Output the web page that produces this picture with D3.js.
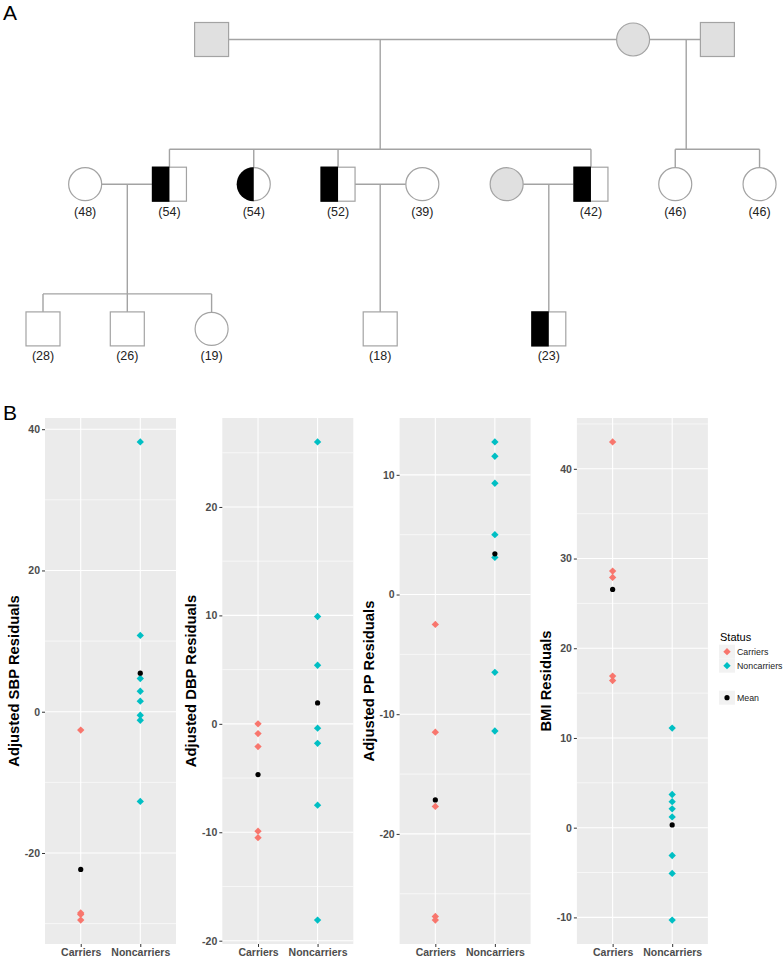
<!DOCTYPE html>
<html lang="en">
<head>
<meta charset="utf-8">
<script src="https://cdn.jsdelivr.net/npm/d3@7"></script>
<style>
  body { margin: 0; background: #fff; }
  text { font-family: Arial, "Liberation Sans", sans-serif; }
</style>
</head>
<body>
<script>
// ---- pedigree (panel A) ----
// slot = column in the pedigree grid, gen = generation row
var people = [
  { id: "gf1", gen: 0, slot: 2, sex: "m", status: "unknown", age: "" },
  { id: "gm", gen: 0, slot: 7, sex: "f", status: "unknown", age: "" },
  { id: "gf2", gen: 0, slot: 8, sex: "m", status: "unknown", age: "" },
  { id: "sp48", gen: 1, slot: 0.5, sex: "f", status: "none", age: "(48)" },
  { id: "m54", gen: 1, slot: 1.5, sex: "m", status: "carrier", age: "(54)" },
  { id: "f54", gen: 1, slot: 2.5, sex: "f", status: "carrier", age: "(54)" },
  { id: "m52", gen: 1, slot: 3.5, sex: "m", status: "carrier", age: "(52)" },
  { id: "sp39", gen: 1, slot: 4.5, sex: "f", status: "none", age: "(39)" },
  { id: "spx", gen: 1, slot: 5.5, sex: "f", status: "unknown", age: "" },
  { id: "m42", gen: 1, slot: 6.5, sex: "m", status: "carrier", age: "(42)" },
  { id: "f46a", gen: 1, slot: 7.5, sex: "f", status: "none", age: "(46)" },
  { id: "f46b", gen: 1, slot: 8.5, sex: "f", status: "none", age: "(46)" },
  { id: "c28", gen: 2, slot: 0, sex: "m", status: "none", age: "(28)" },
  { id: "c26", gen: 2, slot: 1, sex: "m", status: "none", age: "(26)" },
  { id: "c19", gen: 2, slot: 2, sex: "f", status: "none", age: "(19)" },
  { id: "c18", gen: 2, slot: 4, sex: "m", status: "none", age: "(18)" },
  { id: "c23", gen: 2, slot: 6, sex: "m", status: "carrier", age: "(23)" }
];
var families = [
  { parents: ["gf1", "gm"], kids: ["m54", "f54", "m52", "m42"], drop: 4 },
  { parents: ["gm", "gf2"], kids: ["f46a", "f46b"], drop: 7.63 },
  { parents: ["sp48", "m54"], kids: ["c28", "c26", "c19"] },
  { parents: ["m52", "sp39"], kids: ["c18"] },
  { parents: ["spx", "m42"], kids: ["c23"] }
];

// ---- residual plots (panel B) ----
var categories = ["Carriers", "Noncarriers"];
var titles = ["Adjusted SBP Residuals", "Adjusted DBP Residuals", "Adjusted PP Residuals", "BMI Residuals"];
var sbpCarriers = [-2.6, -28.5, -28.7, -29.5];
var sbpNoncarriers = [38.2, 10.8, 4.7, 2.9, 1.5, -0.5, -1.2, -12.7];
var dbpCarriers = [0.0, -0.9, -2.1, -9.9, -10.5];
var dbpNoncarriers = [26.0, 9.9, 5.4, -0.4, -1.8, -7.5, -18.1];
var ppCarriers = [-2.5, -11.5, -17.7, -26.9, -27.2];
var ppNoncarriers = [12.75, 11.55, 9.3, 5.0, 3.1, -6.5, -11.4];
var bmiCarriers = [43.0, 28.6, 27.9, 16.9, 16.4];
var bmiNoncarriers = [11.1, 3.7, 2.9, 2.1, 1.2, -3.1, -5.1, -10.3];
var carrierSets = [sbpCarriers, dbpCarriers, ppCarriers, bmiCarriers];
var noncarrierSets = [sbpNoncarriers, dbpNoncarriers, ppNoncarriers, bmiNoncarriers];
var statusColors = ["#F8766D", "#00BFC4"];

var width = 783, height = 960;
var svg = d3.select("body").append("svg")
  .attr("width", width)
  .attr("height", height);

// ================= A =================
svg.append("text").attr("x", 3).attr("y", 20)
  .style("font-size", "21px").text("A");

var sx = d3.scaleLinear().domain([0, 1]).range([43, 127.3]);
var gy = d3.scaleLinear().domain([0, 1]).range([39.5, 184.2]);
var half = 17, rad = 16.5;
var lineCol = "#a3a3a3";
var byId = {};
people.forEach(function (p) { byId[p.id] = p; });

var lines = svg.append("g")
  .attr("stroke", lineCol).attr("stroke-width", 1.4).attr("fill", "none");
function seg(x1, y1, x2, y2) {
  lines.append("line").attr("x1", x1).attr("y1", y1).attr("x2", x2).attr("y2", y2);
}
function halfW(p) { return p.sex == "m" ? half : rad; }

families.forEach(function (f) {
  var a = byId[f.parents[0]], b = byId[f.parents[1]];
  var y = gy(a.gen);
  var xa = sx(a.slot), xb = sx(b.slot);
  seg(xa + halfW(a), y, xb - halfW(b), y);
  var dx = f.drop != null ? sx(f.drop) : (xa + xb) / 2;
  var kids = f.kids.map(function (k) { return byId[k]; });
  var cy = gy(kids[0].gen);
  if (kids.length == 1) {
    seg(dx, y, dx, cy - half);
  } else {
    var sy = cy - 35;
    seg(dx, y, dx, sy);
    var ext = d3.extent(kids, function (k) { return sx(k.slot); });
    seg(ext[0], sy, ext[1], sy);
    kids.forEach(function (k) {
      seg(sx(k.slot), sy, sx(k.slot), cy - halfW(k));
    });
  }
});

var nodes = svg.append("g").selectAll("g").data(people).join("g")
  .attr("transform", function (d) { return "translate(" + sx(d.slot) + "," + gy(d.gen) + ")"; });

nodes.each(function (d) {
  var g = d3.select(this);
  var fill = d.status == "unknown" ? "#e0e0e0" : "#fff";
  if (d.sex == "m") {
    g.append("rect").attr("x", -half).attr("y", -half)
      .attr("width", half * 2).attr("height", half * 2)
      .attr("fill", fill).attr("stroke", lineCol).attr("stroke-width", 1.2);
    if (d.status == "carrier") {
      g.append("rect").attr("x", -half - 0.6).attr("y", -half - 0.6)
        .attr("width", half + 0.6).attr("height", half * 2 + 1.2).attr("fill", "#000");
    }
  } else {
    g.append("circle").attr("r", rad)
      .attr("fill", fill).attr("stroke", lineCol).attr("stroke-width", 1.2);
    if (d.status == "carrier") {
      g.append("path")
        .attr("d", d3.arc()({ innerRadius: 0, outerRadius: rad + 0.5, startAngle: Math.PI, endAngle: 2 * Math.PI }))
        .attr("fill", "#000");
    }
  }
  if (d.age) {
    g.append("text").attr("y", 31.5).attr("text-anchor", "middle")
      .style("font-size", "12.5px").attr("fill", "#222").text(d.age);
  }
});

// ================= B =================
svg.append("text").attr("x", 3).attr("y", 420)
  .style("font-size", "21px").text("B");

var plotTop = 418, plotBottom = 944, plotW = 131;
var panelLeft = d3.scaleLinear().domain([0, 1]).range([45, 222.3]);
var diamond = d3.symbol().type(d3.symbolSquare).size(27)();

titles.forEach(function (title, i) {
  var left = panelLeft(i);
  var carriers = carrierSets[i], non = noncarrierSets[i];
  var all = carriers.concat(non);
  var ext = d3.extent(all), pad = (ext[1] - ext[0]) * 0.05;
  var y = d3.scaleLinear().domain([ext[0] - pad, ext[1] + pad]).range([plotBottom, plotTop]);
  var x = d3.scalePoint().domain(categories).range([left, left + plotW]).padding(0.6);

  var g = svg.append("g");
  g.append("rect").attr("x", left).attr("y", plotTop)
    .attr("width", plotW).attr("height", plotBottom - plotTop).attr("fill", "#ebebeb");

  var major = y.ticks(5);
  var step = major[1] - major[0];
  var minor = d3.range(major[0] - step / 2, y.domain()[1], step)
    .filter(function (v) { return v >= y.domain()[0]; });
  g.selectAll(".minor").data(minor).join("line")
    .attr("x1", left).attr("x2", left + plotW)
    .attr("y1", function (d) { return y(d); }).attr("y2", function (d) { return y(d); })
    .attr("stroke", "#fff").attr("stroke-width", 0.6);
  g.selectAll(".major").data(major).join("line")
    .attr("x1", left).attr("x2", left + plotW)
    .attr("y1", function (d) { return y(d); }).attr("y2", function (d) { return y(d); })
    .attr("stroke", "#fff").attr("stroke-width", 1.1);
  g.selectAll(".vmajor").data(categories).join("line")
    .attr("x1", function (d) { return x(d); }).attr("x2", function (d) { return x(d); })
    .attr("y1", plotTop).attr("y2", plotBottom)
    .attr("stroke", "#fff").attr("stroke-width", 1.1);

  // axes (plain hyphen for negatives, like the original)
  var ya = g.append("g").attr("transform", "translate(" + left + ",0)")
    .call(d3.axisLeft(y).tickValues(major).tickSize(3).tickPadding(2)
      .tickFormat(function (d) { return String(d); }));
  var xa = g.append("g").attr("transform", "translate(0," + plotBottom + ")")
    .call(d3.axisBottom(x).tickSize(3).tickPadding(2));
  [ya, xa].forEach(function (a) {
    a.select(".domain").remove();
    a.selectAll("line").attr("stroke", "#333");
    a.selectAll("text").attr("fill", "#4d4d4d")
      .style("font-size", "10.5px").style("font-weight", "bold")
      .style("font-family", "Arial, 'Liberation Sans', sans-serif");
  });

  var labelW = 0;
  ya.selectAll("text").each(function () { labelW = Math.max(labelW, this.getComputedTextLength()); });
  var tx = left - 5 - labelW - 11;
  g.append("text")
    .attr("transform", "translate(" + tx + "," + (plotTop + plotBottom) / 2 + ") rotate(-90)")
    .attr("text-anchor", "middle").attr("dy", "0.35em")
    .style("font-size", "14.8px").style("font-weight", "bold").text(title);

  // points
  [carriers, non].forEach(function (vals, k) {
    g.selectAll(null).data(vals).join("path")
      .attr("d", diamond)
      .attr("transform", function (d) { return "translate(" + x(categories[k]) + "," + y(d) + ") rotate(45)"; })
      .attr("fill", statusColors[k]);
  });
  [carriers, non].forEach(function (vals, k) {
    g.append("circle").attr("cx", x(categories[k])).attr("cy", y(d3.mean(vals)))
      .attr("r", 2.6).attr("fill", "#000");
  });
});

// legend
var lg = svg.append("g").attr("transform", "translate(719,0)");
lg.append("text").attr("x", 1).attr("y", 641).style("font-size", "11px").text("Status");
var legendRows = [
  { label: "Carriers", y: 651.7, color: statusColors[0], shape: "d" },
  { label: "Noncarriers", y: 665.7, color: statusColors[1], shape: "d" },
  { label: "Mean", y: 697.7, color: "#000", shape: "c" }
];
legendRows.forEach(function (r) {
  lg.append("rect").attr("x", 0).attr("y", r.y - 7).attr("width", 16).attr("height", 14).attr("fill", "#f2f2f2");
  if (r.shape == "d") {
    lg.append("path").attr("d", diamond)
      .attr("transform", "translate(8," + r.y + ") rotate(45)").attr("fill", r.color);
  } else {
    lg.append("circle").attr("cx", 8).attr("cy", r.y).attr("r", 2.6).attr("fill", r.color);
  }
  lg.append("text").attr("x", 18).attr("y", r.y).attr("dy", "0.35em")
    .style("font-size", "8.8px").attr("fill", "#222").text(r.label);
});
</script>
</body>
</html>
